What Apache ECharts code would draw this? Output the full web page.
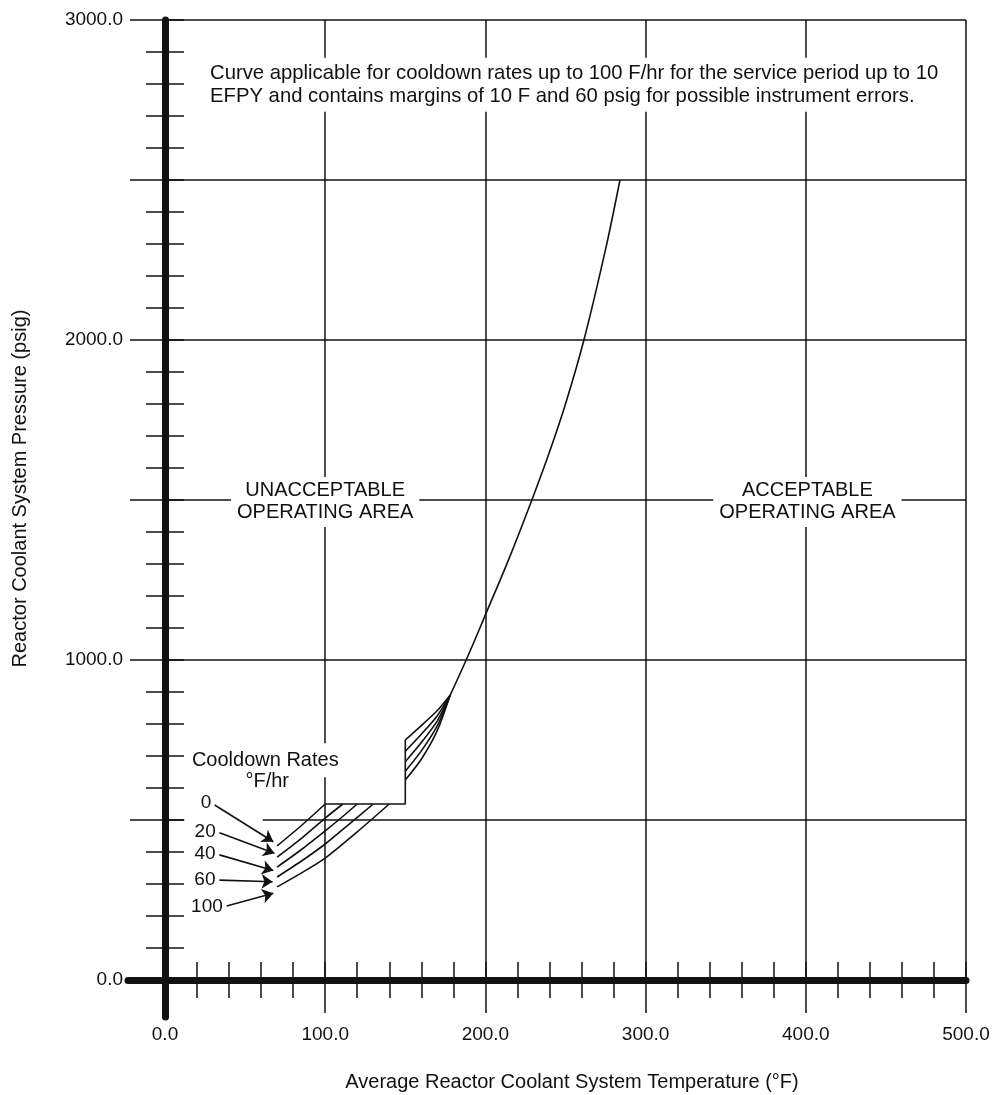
<!DOCTYPE html>
<html>
<head>
<meta charset="utf-8">
<title>RCS Cooldown Limitations</title>
<script src="https://cdn.jsdelivr.net/npm/echarts@6/dist/echarts.min.js"></script>
<style>
  html, body { margin: 0; padding: 0; background: #fff; }
  #chart { width: 994px; height: 1095px; }
</style>
</head>
<body>
<div id="chart"></div>
<script>
// cooldown rates, F/hr
var rates = [0, 20, 40, 60, 100];

// lower part of every curve: [temperature F, pressure psig], up to the 550 psig line
var lowerCurves = [
  [[70, 419], [85, 482], [100, 550]],
  [[70, 384], [85, 442], [100, 506], [111, 550]],
  [[70, 353], [85, 407], [100, 466], [110, 507], [120, 550]],
  [[70, 322], [85, 371], [100, 425], [115, 487], [130, 550]],
  [[70, 291], [85, 334], [100, 381], [120, 463], [140, 550]]
];

// part from 150 F up to where the curves join
var upperCurves = [
  [[150, 750], [160, 795], [170, 842], [178, 890]],
  [[150, 715], [160, 768], [170, 826], [178, 890]],
  [[150, 682], [160, 742], [170, 810], [178, 890]],
  [[150, 652], [160, 716], [170, 795], [178, 890]],
  [[150, 625], [160, 690], [170, 780], [178, 890]]
];

// single curve above the join
var commonCurve = [[178, 890], [188, 1000], [200, 1141], [215, 1320], [229, 1500],
                   [240, 1650], [250, 1800], [261.5, 2000], [275, 2283], [284, 2500]];

// 550 psig limit between 100 F and 150 F
var stepLimit = [[100, 550], [150, 550], [150, 750]];

// arrows from the rate labels to the curve ends
var arrowTails = [[31, 547], [34, 460], [34, 391], [34, 312], [38.5, 231]];
var arrowHeads = [[67.6, 432], [68.3, 396], [67.6, 342], [67.2, 307], [67.6, 271]];

var xTitle = 'Average Reactor Coolant System Temperature (°F)';
var yTitle = 'Reactor Coolant System Pressure (psig)';
var noteText = 'Curve applicable for cooldown rates up to 100 F/hr for the service period up to 10\n' +
               'EFPY and contains margins of 10 F and 60 psig for possible instrument errors.';
var leftAreaText = 'UNACCEPTABLE\nOPERATING AREA';
var rightAreaText = 'ACCEPTABLE\nOPERATING AREA';

var FONT = "'Liberation Sans', Arial, Helvetica, sans-serif";
var INK = '#111';

var chart = echarts.init(document.getElementById('chart'));

function curve(name, pts, smooth) {
  return {
    name: name,
    type: 'line',
    xAxisIndex: 0,
    yAxisIndex: 0,
    data: pts,
    symbol: 'none',
    smooth: smooth,
    lineStyle: { color: INK, width: 1.6 },
    silent: true,
    z: 3
  };
}

var series = [];
rates.forEach(function (r, i) {
  series.push(curve(r + ' F/hr', lowerCurves[i], 0.25));
  series.push(curve(r + ' F/hr', upperCurves[i], 0.25));
});
series.push(curve('common', commonCurve, 0.35));
series.push(curve('limit', stepLimit, false));

// labels, arrows and text notes
series.push({
  type: 'line',
  xAxisIndex: 0,
  yAxisIndex: 0,
  data: [],
  silent: true,
  markArea: {
    silent: true,
    itemStyle: { color: '#fff' },
    data: [[{ coord: [12, 488] }, { coord: [61, 512] }]]
  },
  markLine: {
    silent: true,
    symbol: ['none', 'arrow'],
    symbolSize: 11,
    lineStyle: { color: INK, width: 1.6, type: 'solid' },
    label: {
      show: true, position: 'start', formatter: '{b}', distance: 4,
      color: INK, fontFamily: FONT, fontSize: 19
    },
    emphasis: { disabled: true },
    data: rates.map(function (r, i) {
      return [{ name: String(r), coord: arrowTails[i] }, { coord: arrowHeads[i] }];
    })
  },
  markPoint: {
    silent: true,
    symbol: 'circle',
    symbolSize: 0,
    itemStyle: { color: 'transparent' },
    label: {
      show: true, position: 'inside', formatter: '{b}', align: 'center',
      color: INK, fontFamily: FONT, fontSize: 20, lineHeight: 22,
      backgroundColor: '#fff', padding: [3, 6]
    },
    data: [
      { name: leftAreaText, coord: [100, 1494] },
      { name: rightAreaText, coord: [401, 1494] },
      { name: noteText, coord: [25.6, 2798],
        label: { position: 'right', distance: 0, align: 'left', lineHeight: 23, padding: [4, 4], fontSize: 20.3 } },
      { name: 'Cooldown Rates', coord: [62.6, 687], label: { padding: [6, 3] } },
      { name: '°F/hr', coord: [63.8, 619], label: { backgroundColor: 'transparent', padding: 0 } }
    ]
  }
});

var tickStyle = { color: INK, width: 1.5 };

chart.setOption({
  animation: false,
  backgroundColor: '#fff',
  grid: [
    { left: 165, right: 28, top: 20, bottom: 115, outerBoundsMode: 'none' },
    { left: 128, right: 28, top: 20, bottom: 78, outerBoundsMode: 'none' }
  ],
  xAxis: [
    {
      type: 'value', gridIndex: 0, position: 'bottom',
      min: 0, max: 500, interval: 100,
      axisLine: { show: false },
      axisTick: { show: true, length: 33, lineStyle: tickStyle },
      minorTick: { show: true, splitNumber: 5, length: 18, lineStyle: tickStyle },
      splitLine: { show: true, lineStyle: { color: INK, width: 1.5 } },
      axisLabel: {
        margin: 45, color: INK, fontFamily: FONT, fontSize: 19,
        formatter: function (v) { return v.toFixed(1); }
      },
      name: xTitle, nameLocation: 'middle', nameGap: 92,
      nameTextStyle: { color: INK, fontFamily: FONT, fontSize: 20, padding: [0, 0, 0, 13] }
    },
    {
      // minor ticks on the upper side of the axis
      type: 'value', gridIndex: 0, position: 'bottom',
      min: 0, max: 500, interval: 20,
      axisLine: { show: false },
      axisTick: { show: true, inside: true, length: 18, lineStyle: tickStyle },
      axisLabel: { show: false },
      splitLine: { show: false }
    },
    {
      // heavy axis line, runs a little past the y axis
      type: 'value', gridIndex: 1, min: -23, max: 500,
      axisLine: { show: true, onZero: true, lineStyle: { color: INK, width: 7 } },
      axisTick: { show: false },
      axisLabel: { show: false },
      splitLine: { show: false }
    }
  ],
  yAxis: [
    {
      type: 'value', gridIndex: 0, position: 'left',
      min: 0, max: 3000, interval: 500,
      axisLine: { show: false },
      axisTick: { show: true, length: 35, lineStyle: tickStyle },
      minorTick: { show: true, splitNumber: 5, length: 19, lineStyle: tickStyle },
      splitLine: { show: true, lineStyle: { color: INK, width: 1.5 } },
      axisLabel: {
        margin: 42, color: INK, fontFamily: FONT, fontSize: 19,
        formatter: function (v) { return v % 1000 === 0 ? v.toFixed(1) : ''; }
      },
      name: yTitle, nameLocation: 'middle', nameGap: 135,
      nameTextStyle: { color: INK, fontFamily: FONT, fontSize: 20, padding: [0, 0, 0, 23] }
    },
    {
      type: 'value', gridIndex: 0, position: 'left',
      min: 0, max: 3000, interval: 100,
      axisLine: { show: false },
      axisTick: { show: true, inside: true, length: 19, lineStyle: tickStyle },
      axisLabel: { show: false },
      splitLine: { show: false }
    },
    {
      type: 'value', gridIndex: 1, min: -115, max: 3000,
      axisLine: { show: true, onZero: true, lineStyle: { color: INK, width: 7 } },
      axisTick: { show: false },
      axisLabel: { show: false },
      splitLine: { show: false }
    }
  ],
  series: series
});
</script>
</body>
</html>
